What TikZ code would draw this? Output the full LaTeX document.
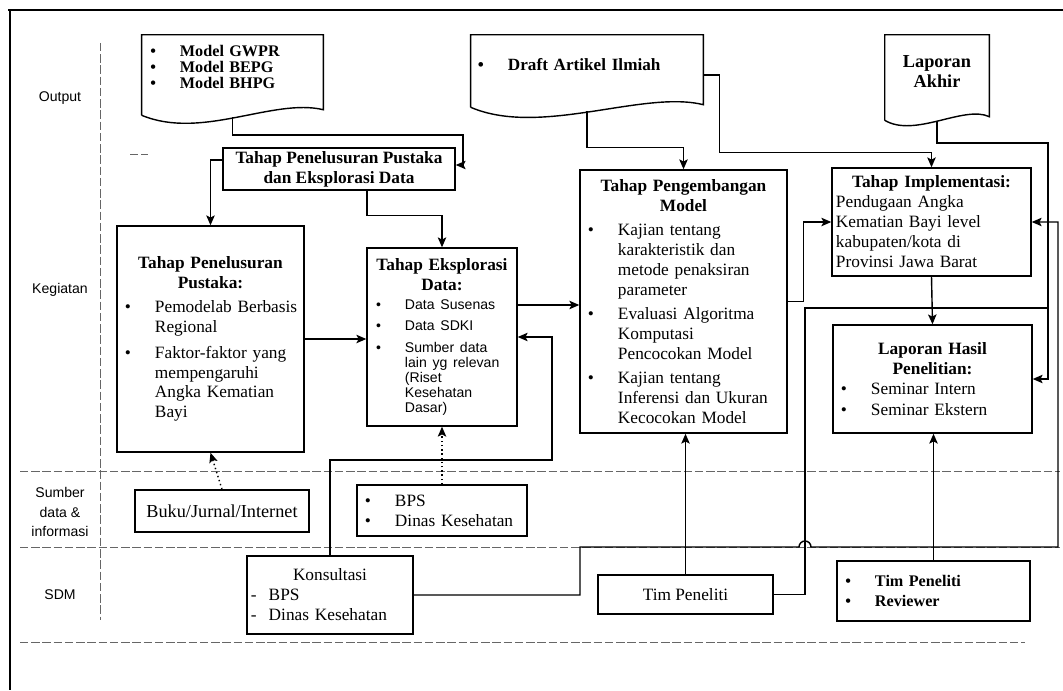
\documentclass[tikz,border=0pt]{standalone}
\usepackage{fontspec}
\setmainfont{Liberation Serif}
\setsansfont{Liberation Sans}
\usetikzlibrary{shapes,arrows.meta,positioning}
\newcommand{\bt}{\leavevmode\llap{\textbullet\hspace{0.6cm}}}

\begin{document}
\begin{tikzpicture}[x=0.025cm,y=-0.025cm,>={Stealth[length=7pt,width=6pt,inset=1.5pt]},
  box/.style={rectangle,draw,line width=1pt,inner xsep=0.1cm,inner ysep=0pt,align=left,font=\fontsize{12.3}{14.2}\selectfont},
  doc/.style={rectangle,inner xsep=0.1cm,inner ysep=0pt,align=left,font=\bfseries\fontsize{11.5}{11.7}\selectfont},
  outline/.style={draw,line width=1pt},
  con/.style={draw,->,line width=1pt},
  dot/.style={draw,->,dotted,line width=1pt},
  lab/.style={font=\sffamily\fontsize{10}{14}\selectfont,align=center},
  sep/.style={draw,black!60,line width=0.6pt,dash pattern=on 6pt off 2pt}]
  \useasboundingbox (0,0) rectangle (1063,690);

  % frame and lanes
  \draw[line width=0.8pt] (8,10) -- (1063,10);
  \draw[line width=0.8pt] (10,10) -- (10,690);
  \draw[sep] (100,43) -- (100,620);
  \draw[sep] (130,154) -- (148,154);
  \draw[sep] (20,471) -- (1060,471);
  \draw[sep] (20,547) -- (1060,547);
  \draw[sep] (20,642) -- (1025,642);

  \node[lab] (out) at (60,98) {Output};
  \node[lab] (keg) at (60,290) {Kegiatan};
  \node[lab] (sum) at (60,512) {Sumber\\data \&\\informasi};
  \node[lab] (sdm) at (60,595) {SDM};

  % output documents
  \node[doc,minimum height=2cm,text width=4.325cm] (d1) at (232.5,75)
    {\leftskip=0.85cm \bt Model GWPR\par \bt Model BEPG\par \bt Model BHPG\par\vspace{0.4cm}\kern0pt};
  \node[doc,minimum height=1.8cm,text width=5.6cm,font=\bfseries\fontsize{12.2}{14}\selectfont] (d2) at (587,71)
    {\leftskip=0.825cm \bt Draft Artikel Ilmiah\par\vspace{0.3cm}\kern0pt};
  \node[doc,minimum height=2.125cm,text width=2.4cm,align=center,font=\bfseries\fontsize{13}{14.2}\selectfont] (d3) at (937,77.5)
    {Laporan\\Akhir\par\vspace{0.28cm}\kern0pt};
  \draw[outline] (d1.south west) -- (d1.north west) -- (d1.north east) -- ++(0,75)
    .. controls +(-50,-12) and +(60,25) .. (d1.south west);
  \draw[outline] (d2.south west) -- (d2.north west) -- (d2.north east) -- ++(0,70)
    .. controls +(-60,-15) and +(70,30) .. (d2.south west);
  \draw[outline] (d3.south west) -- (d3.north west) -- (d3.north east) -- ++(0,82)
    .. controls +(-25,-12) and +(30,18) .. (d3.south west);
  \coordinate (d1b) at ([yshift=-0.05cm]d1.south);
  \coordinate (d2b) at ([yshift=-0.1cm]d2.south);
  \coordinate (d3b) at ([yshift=-0.025cm]d3.south);

  % kegiatan
  \node[box,minimum width=5.8cm,minimum height=1.05cm,align=center,font=\bfseries\fontsize{12.3}{14.2}\selectfont] (pe) at (339,169)
    {Tahap Penelusuran Pustaka\\dan Eksplorasi Data};
  \node[box,minimum height=5.65cm,text width=4.475cm] (tp) at (210.5,339)
    {{\centering\bfseries Tahap Penelusuran\\Pustaka:\par}\vspace{3pt}
     \leftskip=0.85cm \bt Pemodelab Berbasis\\Regional\par\vspace{4pt}
     \bt Faktor-faktor yang\\mempengaruhi\\Angka Kematian\\Bayi\par};
  \node[box,minimum height=4.45cm,text width=3.55cm] (te) at (442,337)
    {{\centering\bfseries Tahap Eksplorasi\\Data:\par}\vspace{3pt}
     \leftskip=0.85cm \sffamily\fontsize{10}{10.7}\selectfont
     \bt Data Susenas\par\vspace{4pt}
     \bt Data SDKI\par\vspace{5pt}
     \bt Sumber data\\lain yg relevan\\(Riset\\Kesehatan\\Dasar)\par};
  \node[box,minimum height=6.575cm,text width=4.975cm] (pm) at (683.5,301.5)
    {{\centering\bfseries Tahap Pengembangan\\Model\par}\vspace{3pt}
     \leftskip=0.85cm \bt Kajian tentang\\karakteristik dan\\metode penaksiran\\parameter\par\vspace{3pt}
     \bt Evaluasi Algoritma\\Komputasi\\Pencocokan Model\par\vspace{3pt}
     \bt Kajian tentang\\Inferensi dan Ukuran\\Kecocokan Model\par};
  \node[box,minimum height=2.7cm,text width=4.775cm] (ti) at (931.5,222)
    {{\centering\bfseries Tahap Implementasi:\par}
     Pendugaan Angka\\Kematian Bayi level\\kabupaten/kota di\\Provinsi Jawa Barat};
  \node[box,minimum height=2.7cm,text width=4.775cm] (lh) at (932.5,379)
    {{\centering\bfseries Laporan Hasil\\Penelitian:\par}
     \leftskip=0.85cm \bt Seminar Intern\par\vspace{1pt} \bt Seminar Ekstern\par};

  % sumber data dan SDM
  \node[box,minimum width=4.35cm,minimum height=1.05cm,font=\fontsize{13}{15}\selectfont] (bj) at (222,511)
    {Buku/Jurnal/Internet};
  \node[box,minimum height=1.275cm,text width=4.05cm] (bps) at (442,510.5)
    {\leftskip=0.85cm \bt BPS\par \bt Dinas Kesehatan\par};
  \node[box,minimum height=1.95cm,text width=3.95cm] (ks) at (330,595)
    {{\centering Konsultasi\par}
     -\hspace{0.3cm}BPS\\-\hspace{0.3cm}Dinas Kesehatan};
  \node[box,minimum width=4.375cm,minimum height=0.975cm] (tp2) at (685.5,594.5) {Tim Peneliti};
  \node[box,minimum height=1.5cm,text width=4.625cm,font=\bfseries\fontsize{11.5}{14.2}\selectfont] (tr) at (933.5,591)
    {\leftskip=0.85cm \bt Tim Peneliti\par \bt Reviewer\par};

  % connectors
  \draw[con] (d1b) |- (463,135) |- ([yshift=0.1cm]pe.east);
  \draw[con] ([yshift=0.225cm]pe.west) -| (tp.north);
  \draw[con] ([xshift=0.7cm]pe.south) -- ++(0,25) -| (te.north);
  \draw[con] (tp.east) -- (tp.east -| te.west);
  \draw[con] ([yshift=0.8cm]te.east) -- ([yshift=0.8cm]te.east -| pm.west);
  \draw[con] (ks.north) |- (552,460) |- (te.east);
  \draw[dot] (bps.north) -- (te.south);
  \draw[dot] (bj.north) -- (tp.south);
  \draw[con] (d2b) |- ([yshift=0.55cm]pm.north) -- (pm.north);
  \draw[con] ([yshift=-0.1cm]d2.east) -- ++(16,0) |- ([yshift=0.375cm]ti.north) -- (ti.north);
  \draw[con] (pm.east) -- ++(16,0) |- (ti.west);
  \draw[con] (ti.south) -- (lh.north);
  \draw[con] (tp2.north) -- (pm.south -| tp2.north);
  \draw[con] (tr.north) -- (lh.south -| tr.north);
  \draw[con] (d3b) |- (1048,143) |- (lh.east);
  \draw[con] (ks.east) -| (580,547) -- (799,547) arc (180:360:6) -- (1058,547) |- (ti.east);
  \coordinate (jn) at (1048,308);
  \draw[con,-] (tp2.east) -| (805,308) -- (jn);
\end{tikzpicture}
\end{document}
